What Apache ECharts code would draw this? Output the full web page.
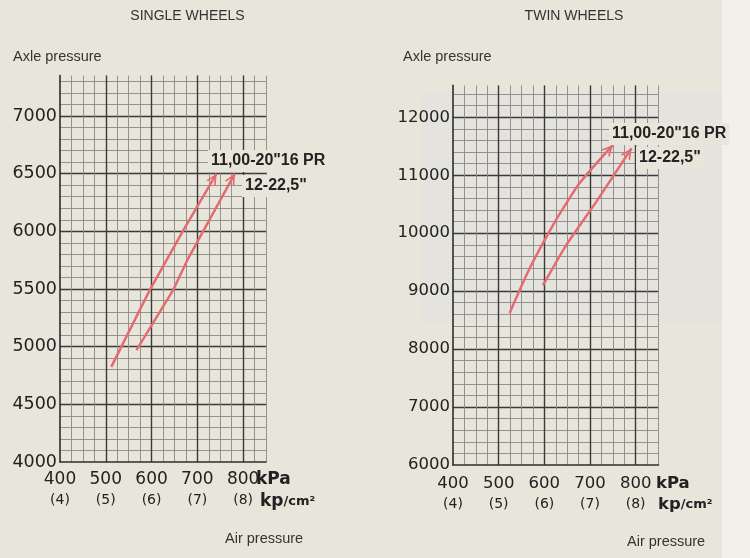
<!DOCTYPE html>
<html><head><meta charset="utf-8">
<script src="https://cdn.jsdelivr.net/npm/echarts@6/dist/echarts.min.js"></script>
<style>html,body{margin:0;padding:0;background:#e8e5da}#c{width:750px;height:558px}</style>
</head><body><div id="c"></div>
<script>
// ---- data ----
const panelTitles = ['SINGLE WHEELS', 'TWIN WHEELS'];
const kpaTicks = [400, 500, 600, 700, 800];
const kpcmLabels = ['(4)', '(5)', '(6)', '(7)', '(8)'];
const tyreNames = ['11,00-20"16 PR', '12-22,5"'];
const singleTyreA = [[512, 4825], [596, 5490], [668, 6000], [742, 6500]];
const singleTyreB = [[567, 4970], [647, 5490], [678, 5750], [782, 6500]];
const twinTyreA = [[524, 8620], [568, 9395], [619, 10140], [655, 10600], [677, 10860], [714, 11205], [750, 11520]];
const twinTyreB = [[597, 9100], [648, 9795], [714, 10545], [791, 11465]];

const PAPER = '#e8e5da';
const RED = '#e66870';
const ARROW = 'path://M0,10 L5,0 L10,10 L8.3,10 L5,3.4 L1.7,10 Z';
const ARROW_SIZE = [11, 11];

const chart = echarts.init(document.getElementById('c'), null, {renderer: 'canvas'});

const panels = [
  {grid: {left: 60, top: 75.6, width: 206, height: 386.4}, yMin: 4000, yMax: 7350, yMajor: 500, yMinor: 100, yFont: 17.5, xFont: 17, margin: 8},
  {grid: {left: 453, top: 85.4, width: 205.5, height: 379.6}, yMin: 6000, yMax: 12550, yMajor: 1000, yMinor: 200, yFont: 16.5, xFont: 16.5, margin: 9}
];

const xAxes = [], yAxes = [], grids = [];
panels.forEach((p, g) => {
  grids.push(p.grid);
  xAxes.push({gridIndex: g, type: 'value', min: 400, max: 850, interval: 25, position: 'bottom',
    axisLine: {show: false}, axisTick: {show: false}, axisLabel: {show: false},
    splitLine: {show: true, showMinLine: false, showMaxLine: true, lineStyle: {color: '#8a8984', width: 0.9}}});
  xAxes.push({gridIndex: g, type: 'value', min: 400, max: 850, interval: 100, position: 'bottom',
    axisLine: {show: true, lineStyle: {color: '#2e2e2e', width: 1.6}}, axisTick: {show: false},
    axisLabel: {show: true, showMaxLabel: false, margin: p.margin, color: '#222',
      formatter: v => { const i = kpaTicks.indexOf(v); return i < 0 ? '' : '{a|' + v + '}\n{b|' + kpcmLabels[i] + '}'; },
      rich: {a: {fontFamily: 'DejaVu Sans', fontSize: p.xFont, lineHeight: 20, color: '#222'},
             b: {fontFamily: 'DejaVu Sans', fontSize: 14, lineHeight: 20, color: '#222'}}},
    splitLine: {show: true, showMinLine: false, showMaxLine: false, lineStyle: {color: '#3a3a3a', width: 1.4}}});
  yAxes.push({gridIndex: g, type: 'value', min: p.yMin, max: p.yMax, interval: p.yMinor, position: 'left',
    axisLine: {show: false}, axisTick: {show: false}, axisLabel: {show: false},
    splitLine: {show: true, showMinLine: false, showMaxLine: false, lineStyle: {color: '#8a8984', width: 0.9}}});
  yAxes.push({gridIndex: g, type: 'value', min: p.yMin, max: p.yMax, interval: p.yMajor, position: 'left',
    axisLine: {show: true, lineStyle: {color: '#2e2e2e', width: 1.6}}, axisTick: {show: false},
    axisLabel: {show: true, showMaxLabel: false, margin: 3, color: '#222', fontFamily: 'DejaVu Sans', fontSize: p.yFont,
      formatter: v => String(v)},
    splitLine: {show: true, showMinLine: false, showMaxLine: false, lineStyle: {color: '#3a3a3a', width: 1.4}}});
});

const curves = [
  {g: 0, data: singleTyreA, smooth: false}, {g: 0, data: singleTyreB, smooth: false},
  {g: 1, data: twinTyreA, smooth: 0.3}, {g: 1, data: twinTyreB, smooth: 0.2}
];

function buildSeries(orient) {
  return curves.map((c, i) => {
    const last = c.data.length - 1;
    const o = orient ? orient[i] : {rot: 0, off: [0, 0]};
    return {
      type: 'line', name: tyreNames[i % 2],
      xAxisIndex: c.g * 2 + 1, yAxisIndex: c.g * 2 + 1,
      smooth: c.smooth, showSymbol: true, showAllSymbol: true, z: 5, clip: false,
      symbol: (v, params) => params.dataIndex === last ? ARROW : 'none',
      symbolSize: ARROW_SIZE, symbolRotate: o.rot, symbolOffset: o.off,
      lineStyle: {color: RED, width: 2.4},
      itemStyle: {color: RED},
      data: c.data
    };
  });
}

function txt(text, x, y, font, extra) {
  return {type: 'text', x: x, y: y, z: 50, style: Object.assign({text: text, font: font, fill: '#333', textVerticalAlign: 'middle'}, extra || {})};
}

const graphics = [
  {type: 'rect', shape: {x: 722, y: 0, width: 28, height: 558}, style: {fill: '#f1f0eb'}, z: -10, silent: true},
  {type: 'rect', shape: {x: 420, y: 92, width: 302, height: 230}, style: {fill: 'rgba(215,225,235,0.22)'}, z: -10, silent: true},
  txt(panelTitles[0], 187.5, 16, '14px "Liberation Sans"', {textAlign: 'center', fill: '#333'}),
  txt(panelTitles[1], 574, 16, '14px "Liberation Sans"', {textAlign: 'center', fill: '#333'}),
  txt('Axle pressure', 13, 57, '14.5px "Liberation Sans"', {fill: '#333'}),
  txt('Axle pressure', 403, 57, '14.5px "Liberation Sans"', {fill: '#333'}),
  txt('Air pressure', 225, 539, '14.5px "Liberation Sans"', {fill: '#333'}),
  txt('Air pressure', 627, 542, '14.5px "Liberation Sans"', {fill: '#333'}),
  txt('kPa', 256, 480, 'bold 17px "DejaVu Sans"', {fill: '#222'}),
  txt('kPa', 656, 484, 'bold 16.5px "DejaVu Sans"', {fill: '#222'}),
  {type: 'text', x: 260, y: 502, z: 50, style: {text: '{k|kp}{c|/cm²}', textVerticalAlign: 'middle',
    rich: {k: {font: 'bold 17px "DejaVu Sans"', fill: '#222'}, c: {font: 'bold 13px "DejaVu Sans"', fill: '#222'}}}},
  {type: 'text', x: 658, y: 505, z: 50, style: {text: '{k|kp}{c|/cm²}', textVerticalAlign: 'middle',
    rich: {k: {font: 'bold 16.5px "DejaVu Sans"', fill: '#222'}, c: {font: 'bold 13px "DejaVu Sans"', fill: '#222'}}}},
  txt(tyreNames[0], 208, 161, 'bold 16px "Liberation Sans"', {fill: '#222', backgroundColor: PAPER, padding: [3, 3, 3, 3]}),
  txt(tyreNames[1], 242, 186, 'bold 16px "Liberation Sans"', {fill: '#222', backgroundColor: PAPER, padding: [3, 4, 3, 3]}),
  txt(tyreNames[0], 609, 134, 'bold 16px "Liberation Sans"', {fill: '#222', backgroundColor: PAPER, padding: [3, 3, 3, 3]}),
  txt(tyreNames[1], 636, 158, 'bold 16px "Liberation Sans"', {fill: '#222', backgroundColor: PAPER, padding: [3, 4, 3, 3]})
];

const option = {
  animation: false,
  backgroundColor: PAPER,
  grid: grids,
  xAxis: xAxes,
  yAxis: yAxes,
  series: buildSeries(null),
  graphic: graphics
};
chart.setOption(option);

// orient arrowheads along the final segment of each curve (pixel space), tip on the end point
const orient = curves.map((c, i) => {
  const n = c.data.length;
  const a = chart.convertToPixel({seriesIndex: i}, c.data[n - 2]);
  const b = chart.convertToPixel({seriesIndex: i}, c.data[n - 1]);
  let dx = b[0] - a[0], dy = b[1] - a[1];
  const len = Math.hypot(dx, dy) || 1;
  const ux = dx / len, uy = dy / len;
  const theta = Math.atan2(ux, -uy) * 180 / Math.PI; // clockwise from up
  const h = ARROW_SIZE[1] / 2;
  return {rot: -theta, off: [-ux * h, -uy * h]};
});
chart.setOption({series: buildSeries(orient)});
</script>
</body></html>
